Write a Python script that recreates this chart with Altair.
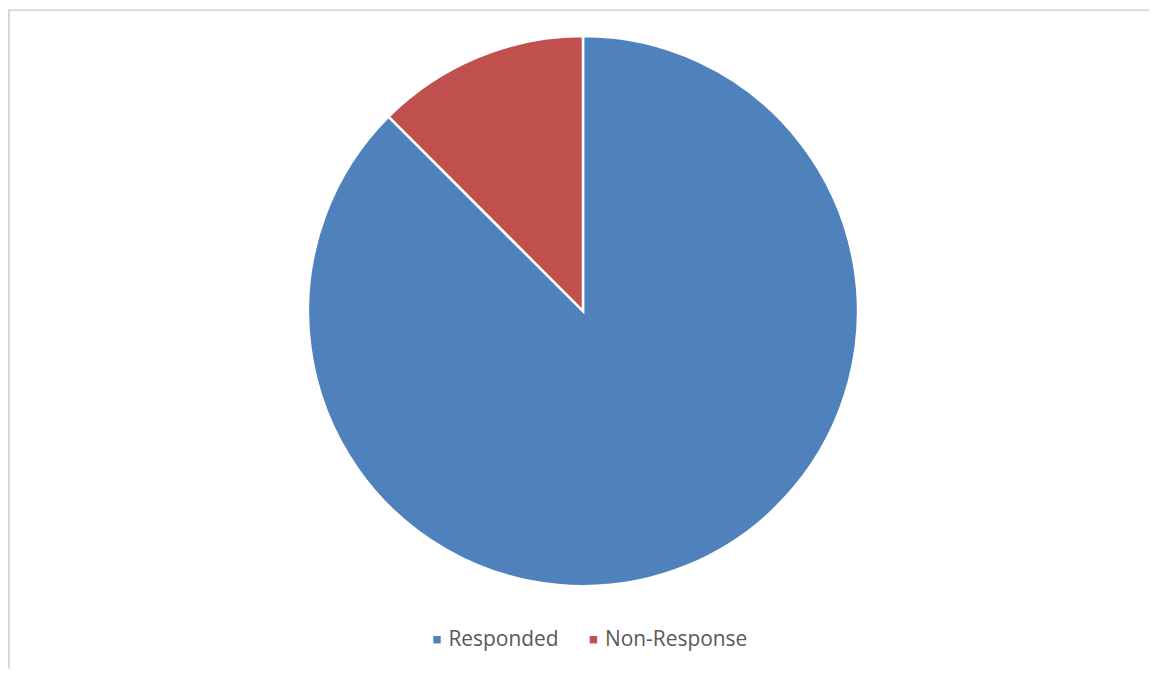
import altair as alt
import pandas as pd

categories = ["Responded", "Non-Response"]
values = [87.5, 12.5]
colors = ["#4F81BD", "#C0504D"]

df = pd.DataFrame({"category": categories, "value": values, "order": [0, 1]})

W, H = 1145, 662

pie = alt.Chart(df).mark_arc(outerRadius=276, stroke="white", strokeWidth=2.5).encode(
    theta=alt.Theta("value:Q", stack=True),
    order=alt.Order("order:Q"),
    color=alt.Color(
        "category:N",
        scale=alt.Scale(domain=categories, range=colors),
        sort=categories,
        legend=alt.Legend(
            title=None,
            orient="none",
            direction="horizontal",
            legendX=420,
            legendY=622,
            symbolType="square",
            symbolSize=56,
            symbolStrokeWidth=0,
            labelFont="Open Sans",
            labelFontSize=21,
            labelColor="#595959",
            labelOffset=1,
            columnPadding=24,
        ),
    ),
    x=alt.value(577),
    y=alt.value(303),
)

border_df = pd.DataFrame({"k": [0]})
top = alt.Chart(border_df).mark_rule(color="#D9D9D9", strokeWidth=2).encode(
    x=alt.value(0), x2=alt.value(W), y=alt.value(1)
)
left = alt.Chart(border_df).mark_rule(color="#D9D9D9", strokeWidth=2).encode(
    x=alt.value(1), y=alt.value(0), y2=alt.value(H)
)

chart = (
    alt.layer(pie, top, left)
    .properties(width=W, height=H, padding=0, autosize=alt.AutoSizeParams(type="none"))
    .configure_view(stroke=None)
)

chart.save("out.html", embed_options={"renderer": "svg", "actions": False})
